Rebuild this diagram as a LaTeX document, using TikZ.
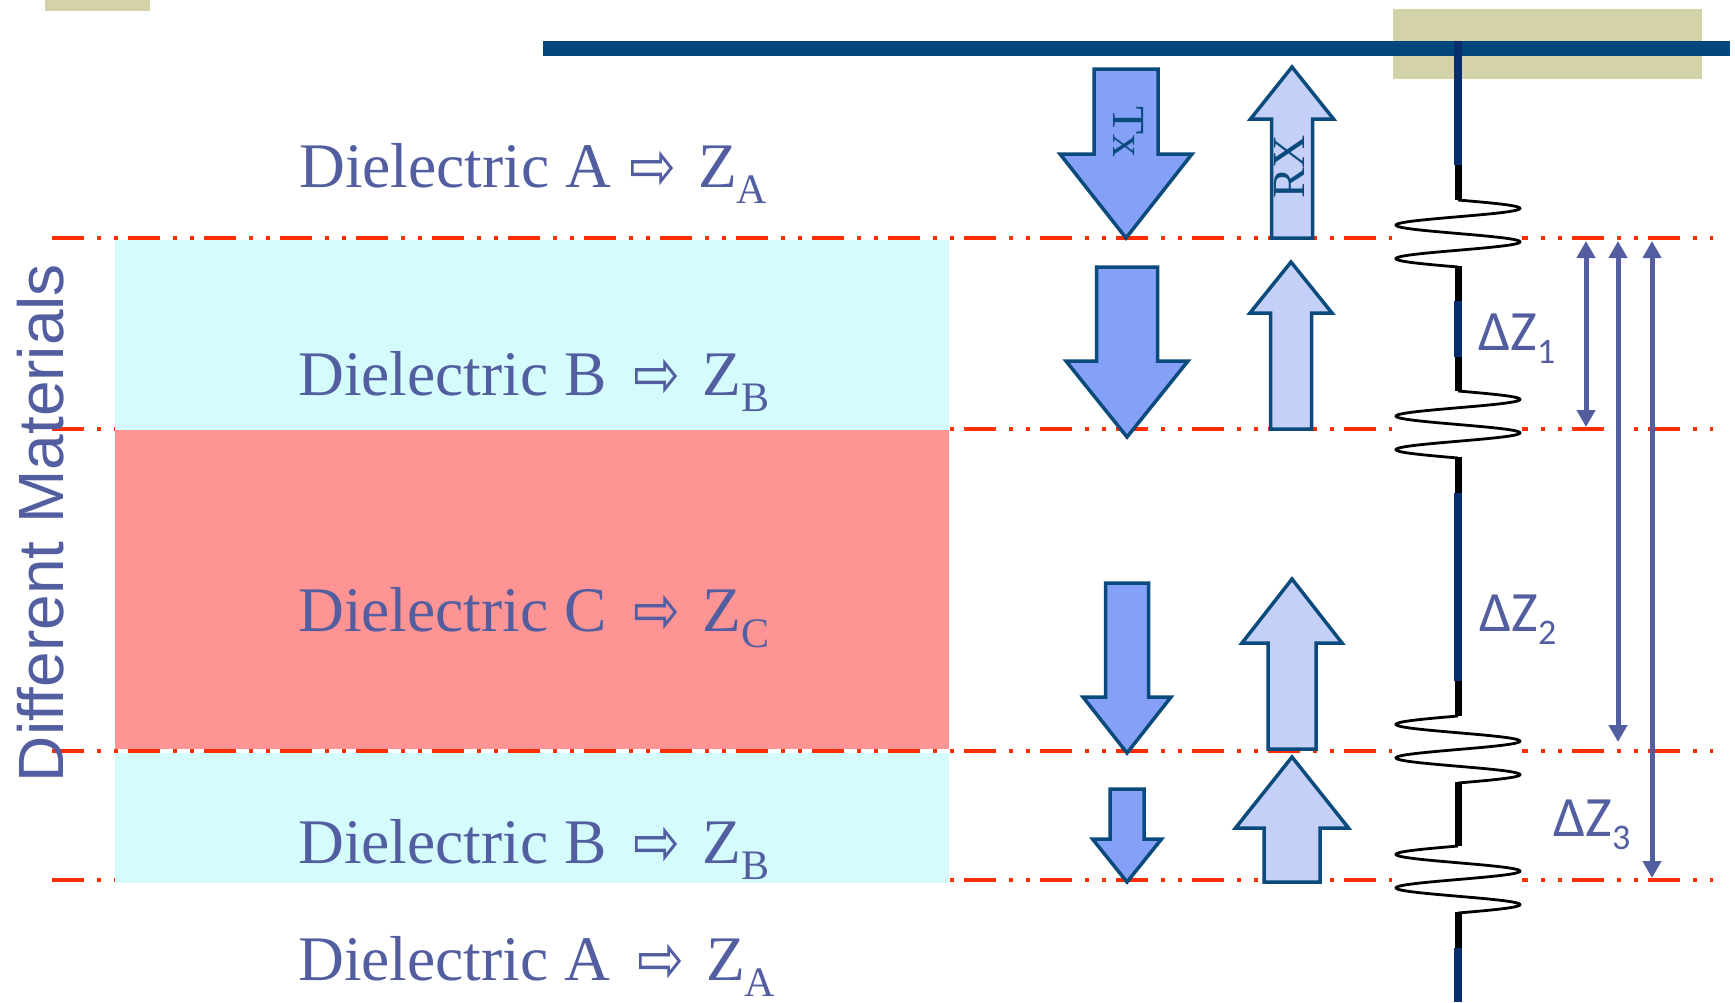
\documentclass[tikz,border=0pt]{standalone}
\usepackage{graphicx}
\usepackage{fontspec}
\setmainfont{Liberation Serif}
\newfontfamily\arrfont{DejaVu Sans}
\newfontfamily\calfont{Carlito}
\newfontfamily\matfont{Liberation Sans}
\usetikzlibrary{arrows.meta}
\definecolor{txtblue}{RGB}{82,94,160}
\definecolor{zblue}{RGB}{82,94,160}
\definecolor{redc}{RGB}{255,46,0}
\definecolor{cyanfill}{RGB}{212,252,252}
\definecolor{redfill}{RGB}{255,148,148}
\definecolor{tanc}{RGB}{212,210,168}
\definecolor{navybar}{RGB}{3,70,122}
\definecolor{navyl}{RGB}{8,46,110}
\definecolor{arrline}{RGB}{11,74,124}
\definecolor{txfill}{RGB}{132,160,247}
\definecolor{rxfill}{RGB}{196,208,248}
\newcommand\zarrow{\hspace{18pt}\raisebox{-3pt}{\scalebox{1}[1.25]{\arrfont\fontsize{56}{56}\selectfont ⇨}}\hspace{22pt}}
\newcommand\zsubs[1]{\raisebox{-16pt}{\fontsize{42}{42}\selectfont #1}}
\newcommand\dzsub[1]{\raisebox{-13pt}{\fontsize{36}{36}\selectfont #1}}
\newcommand\blkarrow[7]{%
  \draw[#7] ({#1-#3},{#2}) -- ({#1+#3},{#2}) -- ({#1+#3},{#4}) -- ({#1+#5},{#4})
    -- ({#1},{#6}) -- ({#1-#5},{#4}) -- ({#1-#3},{#4}) -- cycle;}
\newcommand\drawspring[2]{%
  \fill[white] (1392,{#1}) rectangle (1522,{#1+67});
  \draw[black, line width=2.8pt] plot[domain=0:2, samples=120, smooth]
    ({1458+#2*62*sin(\x*360)}, {#1+\x*33.5});}
\begin{document}
\begin{tikzpicture}[x=1pt,y=-1pt,
  redline/.style={draw=redc, line width=4pt,
    dash pattern=on 32pt off 13pt on 4pt off 13pt on 4pt off 10pt},
  lbl/.style={inner sep=0pt, text=txtblue, font=\fontsize{63.5}{63.5}\selectfont, anchor=base west},
  txa/.style={draw=arrline, fill=txfill, line width=3.5pt, line join=miter},
  rxa/.style={draw=arrline, fill=rxfill, line width=3.5pt, line join=miter},
  navyseg/.style={draw=navyl, line width=8pt},
  blackseg/.style={draw=black, line width=7pt},
  dzarr/.style={draw=zblue, line width=5pt,
    {Triangle[length=17pt,width=18pt]}-{Triangle[length=17pt,width=18pt]}},
  dzlbl/.style={inner sep=0pt, text=zblue, font=\calfont\fontsize{57}{57}\selectfont, anchor=base west}]
\useasboundingbox (0,0) rectangle (1735,1002);
\fill[white] (0,0) rectangle (1735,1002);
% tan blocks
\fill[tanc] (45,0) rectangle (150,11);
\fill[tanc] (1393,9) rectangle (1702,79);
% red dash-dot lines
\foreach \yy in {238,429,751,880}{
  \draw[redline] (52,\yy) -- (1713,\yy);
}
% material layers
\fill[cyanfill] (115,239.5) rectangle (949,430);
\fill[redfill] (115,430) rectangle (949,749);
\fill[cyanfill] (115,753) rectangle (949,883);
% top bar
\fill[navybar] (543,41) rectangle (1730,56);
% transmission line with discontinuities
\draw[navyseg] (1458,41) -- (1458,165);
\draw[blackseg] (1458,165) -- (1458,201);
\drawspring{200}{1}
\draw[blackseg] (1458,266) -- (1458,301);
\draw[navyseg] (1458,301) -- (1458,357);
\draw[blackseg] (1458,357) -- (1458,392);
\drawspring{391}{1}
\draw[blackseg] (1458,457) -- (1458,493);
\draw[navyseg] (1458,493) -- (1458,681);
\draw[blackseg] (1458,681) -- (1458,717);
\drawspring{716}{-1}
\draw[blackseg] (1458,782) -- (1458,847);
\drawspring{846}{-1}
\draw[blackseg] (1458,912) -- (1458,948);
\draw[navyseg] (1458,948) -- (1458,1002);
% block arrows
\blkarrow{1126}{69}{32}{154}{66}{238}{txa}
\blkarrow{1292}{238}{20.5}{119}{41.5}{67}{rxa}
\blkarrow{1127}{267}{30.5}{361}{61}{437}{txa}
\blkarrow{1291}{429}{20.5}{313}{41}{262}{rxa}
\blkarrow{1127}{583}{21.5}{697}{44}{753}{txa}
\blkarrow{1292}{749}{24}{643}{50}{579}{rxa}
\blkarrow{1127}{789}{17}{839}{34.5}{882}{txa}
\blkarrow{1292}{882}{28}{828}{56.5}{757}{rxa}
\node[rotate=-90, inner sep=0pt, text=arrline, font=\fontsize{46}{46}\selectfont] (tx) at (1129,132) {Tx};
\node[rotate=90, inner sep=0pt, text=arrline, font=\fontsize{46}{46}\selectfont] (rx) at (1289,167) {RX};
% delta-Z arrows
\coordinate (d1t) at (1586,241);
\coordinate (d1b) at (1586,427);
\coordinate (d2t) at (1618,241);
\coordinate (d2b) at (1618,742);
\coordinate (d3t) at (1652,241);
\coordinate (d3b) at (1652,878);
\draw[dzarr] (d1t) -- (d1b);
\draw[dzarr] (d2t) -- (d2b);
\draw[dzarr] (d3t) -- (d3b);
\node[dzlbl] (dz1) at (1478,350) {ΔZ\dzsub{1}};
\node[dzlbl] (dz2) at (1479,631) {ΔZ\dzsub{2}};
\node[dzlbl] (dz3) at (1553,836) {ΔZ\dzsub{3}};
% dielectric labels
\node[lbl] (la1) at (299,187) {Dielectric A\zarrow Z\zsubs{A}};
\node[lbl] (lb1) at (298,395) {Dielectric B\hspace{9pt}\zarrow Z\zsubs{B}};
\node[lbl] (lc) at (298,631) {Dielectric C\hspace{9pt}\zarrow Z\zsubs{C}};
\node[lbl] (lb2) at (298,863) {Dielectric B\hspace{9pt}\zarrow Z\zsubs{B}};
\node[lbl] (la2) at (298,980) {Dielectric A\hspace{9pt}\zarrow Z\zsubs{A}};
% side title
\node[rotate=90, inner sep=0pt, text=txtblue, font=\matfont\fontsize{64}{64}\selectfont] (dm) at (41,523) {Different Materials};
\end{tikzpicture}
\end{document}
